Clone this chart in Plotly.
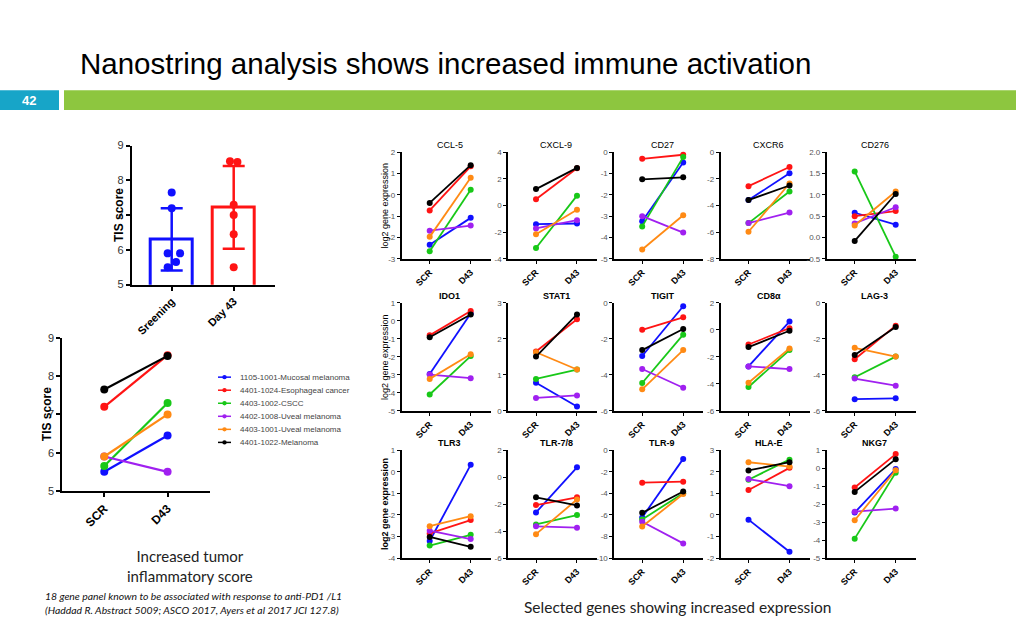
import plotly.graph_objects as go

W, H = 1016, 635

# ---------------- data ----------------
patients = ["1105-1001-Mucosal melanoma", "4401-1024-Esophageal cancer", "4403-1002-CSCC",
            "4402-1008-Uveal melanoma", "4403-1001-Uveal melanoma", "4401-1022-Melanoma"]
colors = ["#1010ff", "#ff1414", "#18c818", "#a020f0", "#ff8a14", "#000000"]

timepoints = ["SCR", "D43"]
bar_labels = ["Sreening", "Day 43"]
tis_scr = [5.5, 7.2, 5.65, 5.9, 5.9, 7.65]
tis_d43 = [6.45, 8.55, 7.3, 5.5, 7.0, 8.53]
p_value_text = "*0.0229"
jitter_scr = [-0.065, 0.0, 0.07, -0.065, 0.135, 0.0]
jitter_d43 = [0.0, -0.06, 0.0, 0.0, 0.0, 0.06]

genes = ["CCL-5", "CXCL-9", "CD27", "CXCR6", "CD276",
         "IDO1", "STAT1", "TIGIT", "CD8α", "LAG-3",
         "TLR3", "TLR-7/8", "TLR-9", "HLA-E", "NKG7"]

ccl5_scr = [-2.34, -0.73, -2.65, -1.68, -1.97, -0.38]
ccl5_d43 = [-1.08, 1.34, 0.24, -1.44, 0.80, 1.39]
cxcl9_scr = [-1.40, 0.47, -3.19, -1.72, -2.16, 1.23]
cxcl9_d43 = [-1.35, 2.80, 0.74, -1.10, -0.32, 2.82]
cd27_scr = [-3.24, -0.31, -3.48, -3.00, -4.56, -1.27]
cd27_d43 = [-0.48, -0.12, -0.23, -3.77, -2.96, -1.18]
cxcr6_scr = [-3.59, -2.55, -5.32, -5.32, -5.97, -3.59]
cxcr6_d43 = [-1.58, -1.11, -2.95, -4.53, -2.35, -2.50]
cd276_scr = [0.58, 0.50, 1.55, 0.33, 0.28, -0.08]
cd276_d43 = [0.30, 0.62, -0.45, 0.71, 1.08, 1.02]
ido1_scr = [-2.95, -0.80, -4.09, -2.98, -3.22, -0.91]
ido1_d43 = [0.42, 0.55, -1.95, -3.18, -1.85, 0.36]
stat1_scr = [0.78, 1.65, 0.89, 0.36, 1.63, 1.51]
stat1_d43 = [0.12, 2.55, 1.15, 0.43, 1.15, 2.68]
tigit_scr = [-2.95, -1.49, -4.45, -3.67, -4.80, -2.62]
tigit_d43 = [-0.18, -0.80, -1.76, -4.71, -2.62, -1.45]
cd8a_scr = [-2.70, -1.08, -4.23, -2.70, -3.91, -1.27]
cd8a_d43 = [0.62, 0.13, -1.49, -2.90, -1.37, -0.06]
lag3_scr = [-5.35, -3.13, -4.13, -4.20, -2.49, -2.89]
lag3_d43 = [-5.30, -1.26, -2.98, -4.60, -2.98, -1.33]
tlr3_scr = [-3.21, -2.86, -3.42, -2.73, -2.52, -3.02]
tlr3_d43 = [0.32, -2.24, -2.92, -3.12, -2.06, -3.48]
tlr78_scr = [-2.62, -2.07, -3.51, -3.65, -4.23, -1.50]
tlr78_d43 = [0.73, -1.50, -2.81, -3.75, -1.66, -2.10]
tlr9_scr = [-6.23, -3.01, -6.42, -6.63, -7.08, -5.81]
tlr9_d43 = [-0.81, -2.92, -4.00, -8.64, -4.07, -3.83]
hlae_scr = [-0.22, 1.15, 1.63, 1.66, 2.44, 2.06]
hlae_d43 = [-1.71, 2.18, 2.56, 1.33, 2.24, 2.44]
nkg7_scr = [-2.47, -1.08, -3.92, -2.42, -2.90, -1.32]
nkg7_d43 = [-0.05, 0.78, -0.25, -2.25, -0.12, 0.50]

gene_scr = [ccl5_scr, cxcl9_scr, cd27_scr, cxcr6_scr, cd276_scr,
            ido1_scr, stat1_scr, tigit_scr, cd8a_scr, lag3_scr,
            tlr3_scr, tlr78_scr, tlr9_scr, hlae_scr, nkg7_scr]
gene_d43 = [ccl5_d43, cxcl9_d43, cd27_d43, cxcr6_d43, cd276_d43,
            ido1_d43, stat1_d43, tigit_d43, cd8a_d43, lag3_d43,
            tlr3_d43, tlr78_d43, tlr9_d43, hlae_d43, nkg7_d43]

# axis ranges (min, max, step) for each gene panel
gene_axes = [(-3, 2, 1), (-4, 4, 2), (-5, 0, 1), (-8, 0, 2), (-0.5, 2.0, 0.5),
             (-5, 1, 1), (0, 3, 1), (-6, 0, 2), (-6, 2, 2), (-6, 0, 2),
             (-4, 1, 1), (-6, 2, 2), (-10, 0, 2), (-2, 3, 1), (-5, 1, 1)]

# ---------------- helpers ----------------
def fx(x):
    return x / W

def fy(y):
    return 1 - y / H

CHART_FONT = "Liberation Sans, Arial, sans-serif"
SLIDE_FONT = "Lato, Open Sans, sans-serif"

fig = go.Figure()
layout = dict(
    width=W, height=H, margin=dict(l=0, r=0, t=0, b=0),
    paper_bgcolor="white", plot_bgcolor="rgba(0,0,0,0)",
    showlegend=False, font=dict(family=CHART_FONT, color="#000"),
)
annotations = []
shapes = []

# ---------------- gene panels ----------------
col_x = [401.7, 508.0, 614.2, 720.5, 826.7]
row_y = [(149.0, 257.7), (302.7, 412.7), (452.7, 562.7)]
panel_w = 89.0
gx_range = [-0.683, 1.488]

for g, name in enumerate(genes):
    r, c = divmod(g, 5)
    n = g + 1
    xa = "x" if n == 1 else f"x{n}"
    ya = "y" if n == 1 else f"y{n}"
    for p in range(len(patients)):
        fig.add_trace(go.Scatter(
            x=[0, 1], y=[gene_scr[g][p], gene_d43[g][p]],
            mode="lines+markers", xaxis=xa, yaxis=ya,
            line=dict(color=colors[p], width=1.8),
            marker=dict(color=colors[p], size=6),
            cliponaxis=False, hoverinfo="skip"))
    lo, hi, st = gene_axes[g]
    nt = int(round((hi - lo) / st)) + 1
    tv = [lo + i * st for i in range(nt)]
    tt = [f"{v:.1f}" if st < 1 else f"{int(round(v))}" for v in tv]
    x0, x1 = col_x[c], col_x[c] + panel_w
    y0, y1 = row_y[r]
    layout[f"xaxis{n}" if n > 1 else "xaxis"] = dict(
        domain=[fx(x0), fx(x1)], anchor=ya, range=gx_range,
        showgrid=False, zeroline=False, showline=True, linecolor="#000", linewidth=1.6,
        ticks="outside", ticklen=3, tickwidth=1.2, tickcolor="#000",
        tickvals=[0, 1], ticktext=[f"<b>{t}</b>" for t in timepoints],
        tickangle=-45, tickfont=dict(size=9, color="#000", family=CHART_FONT))
    layout[f"yaxis{n}" if n > 1 else "yaxis"] = dict(
        domain=[fy(y1), fy(y0)], anchor=xa, range=[lo, hi],
        showgrid=False, zeroline=False, showline=True, linecolor="#000", linewidth=1.6,
        ticks="outside", ticklen=3, tickwidth=1.2, tickcolor="#000",
        tickvals=tv, ticktext=tt, tickfont=dict(size=8, color="#555", family=CHART_FONT))
    annotations.append(dict(
        x=fx(x0 + 48), y=fy(y0 - 7), xref="paper", yref="paper",
        text=f"<b>{name}</b>" if r > 0 else name, showarrow=False,
        font=dict(size=9, color="#000", family=CHART_FONT), xanchor="center", yanchor="middle"))

for r, (y0, y1) in enumerate(row_y):
    txt = "log2 gene expression"
    annotations.append(dict(
        x=fx(385), y=fy((y0 + y1) / 2), xref="paper", yref="paper",
        text=f"<b>{txt}</b>" if r == 2 else txt, showarrow=False, textangle=-90,
        font=dict(size=9, color="#000", family=CHART_FONT), xanchor="center", yanchor="middle"))

# ---------------- bar chart ----------------
def mean(v):
    return sum(v) / len(v)

def sd(v):
    m = mean(v)
    return (sum((a - m) ** 2 for a in v) / (len(v) - 1)) ** 0.5

bar_sets = [tis_scr, tis_d43]
bar_cols = ["#1010ff", "#ff1414"]
jits = [jitter_scr, jitter_d43]
for i, vals in enumerate(bar_sets):
    fig.add_trace(go.Bar(
        x=[i], y=[mean(vals)], width=0.68, xaxis="x16", yaxis="y16",
        marker=dict(color="white", line=dict(color=bar_cols[i], width=3)),
        error_y=dict(type="data", array=[sd(vals)], color=bar_cols[i], thickness=2.5, width=11),
        hoverinfo="skip"))
    fig.add_trace(go.Scatter(
        x=[i + j for j in jits[i]], y=vals, mode="markers", xaxis="x16", yaxis="y16",
        marker=dict(color=bar_cols[i], size=8), cliponaxis=False, hoverinfo="skip"))

layout["xaxis16"] = dict(
    domain=[fx(131.7), fx(275)], anchor="y16", range=[-0.645, 1.666],
    showgrid=False, zeroline=False, showline=True, linecolor="#000", linewidth=2,
    ticks="outside", ticklen=4, tickwidth=1.5, tickcolor="#000",
    tickvals=[0, 1], ticktext=[f"<b>{t}</b>" for t in bar_labels], tickangle=-45,
    tickfont=dict(size=11, color="#000", family=CHART_FONT))
layout["yaxis16"] = dict(
    domain=[fy(284), fy(142.3)], anchor="x16", range=[5, 9],
    showgrid=False, zeroline=False, showline=True, linecolor="#000", linewidth=2,
    ticks="outside", ticklen=4, tickwidth=1.5, tickcolor="#000",
    tickvals=[5, 6, 7, 8, 9], tickfont=dict(size=11, color="#333", family=CHART_FONT))
annotations.append(dict(x=fx(110), y=fy(213), xref="paper", yref="paper", text="<b>TIS score</b>",
                        showarrow=False, textangle=-90,
                        font=dict(size=12, color="#000", family=CHART_FONT)))
shapes.append(dict(type="line", xref="x16", yref="y16", x0=-0.145, x1=0.98, y0=9.11, y1=9.11,
                   line=dict(color="#999", width=1.5)))
annotations.append(dict(x=0.34, y=9.42, xref="x16", yref="y16", text=p_value_text, showarrow=False,
                        font=dict(size=12, color="#222", family=CHART_FONT)))

# ---------------- paired line chart ----------------
for p in range(len(patients)):
    fig.add_trace(go.Scatter(
        x=[0, 1], y=[tis_scr[p], tis_d43[p]], mode="lines+markers",
        xaxis="x17", yaxis="y17", line=dict(color=colors[p], width=2.2),
        marker=dict(color=colors[p], size=8), cliponaxis=False, hoverinfo="skip"))

layout["xaxis17"] = dict(
    domain=[fx(62.3), fx(210)], anchor="y17", range=[-0.663, 1.67],
    showgrid=False, zeroline=False, showline=True, linecolor="#000", linewidth=2,
    ticks="outside", ticklen=4, tickwidth=1.5, tickcolor="#000",
    tickvals=[0, 1], ticktext=[f"<b>{t}</b>" for t in timepoints], tickangle=-45,
    tickfont=dict(size=12, color="#000", family=CHART_FONT))
layout["yaxis17"] = dict(
    domain=[fy(494.3), fy(338.3)], anchor="x17", range=[5, 9],
    showgrid=False, zeroline=False, showline=True, linecolor="#000", linewidth=2,
    ticks="outside", ticklen=4, tickwidth=1.5, tickcolor="#000",
    tickvals=[5, 6, 7, 8, 9], tickfont=dict(size=11, color="#333", family=CHART_FONT))
annotations.append(dict(x=fx(38), y=fy(416), xref="paper", yref="paper", text="<b>TIS score</b>",
                        showarrow=False, textangle=-90,
                        font=dict(size=12, color="#000", family=CHART_FONT)))

# legend (manual)
for p, name in enumerate(patients):
    yy = 378.3 + 13.3 * p
    shapes.append(dict(type="line", xref="paper", yref="paper", x0=fx(218), x1=fx(231),
                       y0=fy(yy), y1=fy(yy), line=dict(color=colors[p], width=1.5)))
    shapes.append(dict(type="circle", xref="paper", yref="paper", x0=fx(222.3), x1=fx(226.7),
                       y0=fy(yy + 2.2), y1=fy(yy - 2.2), fillcolor=colors[p],
                       line=dict(color=colors[p], width=0)))
    annotations.append(dict(x=fx(238), y=fy(yy), xref="paper", yref="paper", text=name,
                            showarrow=False, xanchor="left", yanchor="middle",
                            font=dict(size=8, color="#444", family=CHART_FONT)))

# ---------------- slide decoration ----------------
shapes.append(dict(type="rect", xref="paper", yref="paper", x0=0, x1=fx(59), y0=fy(106), y1=fy(86),
                   fillcolor="#17a5c8", line=dict(width=0)))
shapes.append(dict(type="rect", xref="paper", yref="paper", x0=fx(64), x1=1, y0=fy(106), y1=fy(86),
                   fillcolor="#8dc63f", line=dict(width=0)))
annotations.append(dict(x=fx(29), y=fy(96), xref="paper", yref="paper", text="<b>42</b>",
                        showarrow=False, xanchor="center", yanchor="middle",
                        font=dict(size=13, color="white", family="Liberation Sans Narrow, Liberation Sans, sans-serif")))
annotations.append(dict(x=fx(78), y=fy(59), xref="paper", yref="paper",
                        text="Nanostring analysis shows increased immune activation",
                        showarrow=False, xanchor="left", yanchor="middle",
                        font=dict(size=29.5, color="#000", family="Liberation Sans Narrow, Liberation Sans, sans-serif")))
annotations.append(dict(x=fx(190), y=fy(571), xref="paper", yref="paper",
                        text="Increased tumor<br>inflammatory score", showarrow=False,
                        xanchor="center", yanchor="middle",
                        font=dict(size=15, color="#222", family=SLIDE_FONT)))
annotations.append(dict(x=fx(43), y=fy(609), xref="paper", yref="paper",
                        text="<i>18 gene panel known to be associated with response to anti-PD1 /L1<br>"
                             "(Haddad R. Abstract 5009; ASCO 2017, Ayers et al 2017 JCI 127.8)</i>",
                        showarrow=False, xanchor="left", yanchor="middle", align="left",
                        font=dict(size=10.4, color="#111", family=SLIDE_FONT)))
annotations.append(dict(x=fx(677), y=fy(613), xref="paper", yref="paper",
                        text="Selected genes showing increased expression", showarrow=False,
                        xanchor="center", yanchor="middle",
                        font=dict(size=15.5, color="#222", family=SLIDE_FONT)))

layout["annotations"] = annotations
layout["shapes"] = shapes
layout["bargap"] = 0
fig.update_layout(**layout)
fig.write_html("out.html", config={"displayModeBar": False},
               post_script="document.body.style.margin='0';document.body.style.overflow='hidden';")
